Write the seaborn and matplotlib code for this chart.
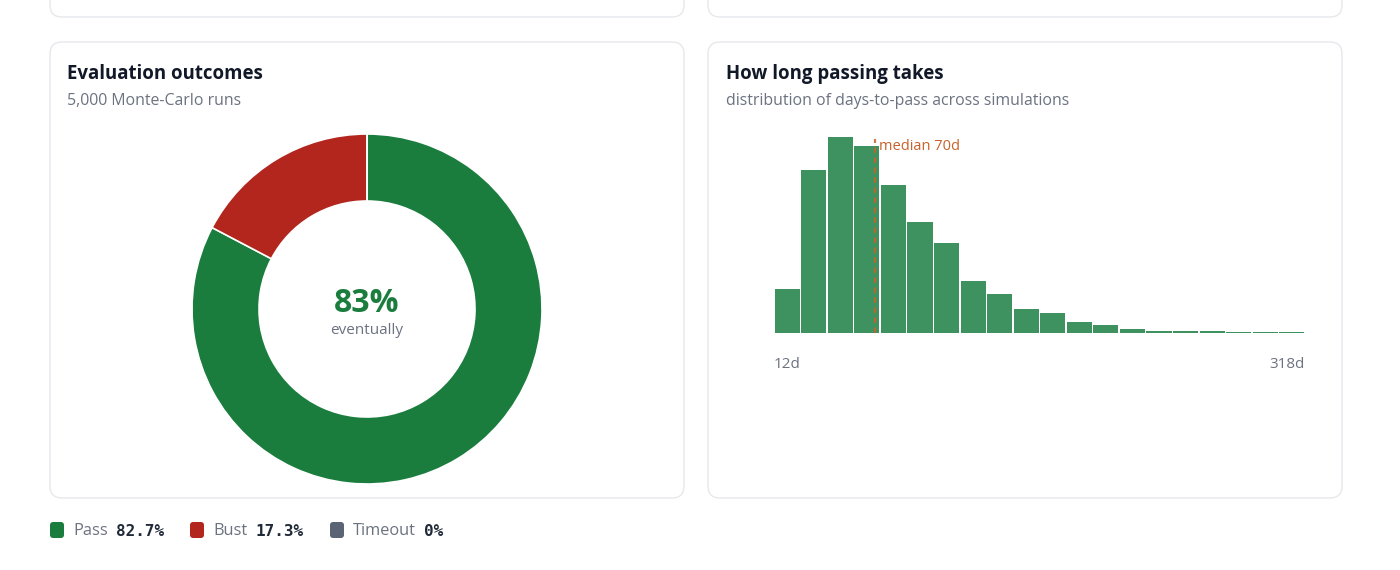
import matplotlib
matplotlib.use("Agg")
import matplotlib.pyplot as plt
from matplotlib.patches import FancyBboxPatch
import numpy as np
import pandas as pd
import seaborn as sns

# ---------------- data ----------------
outcome_labels = ["Pass", "Bust", "Timeout"]
outcome_pcts = [82.7, 17.3, 0.0]
outcome_pct_text = ["82.7%", "17.3%", "0%"]
outcome_colors = ["#1a7d3e", "#b3261e", "#5b6474"]
headline = "83%"
headline_sub = "eventually"

days_min, days_max = 12, 318
n_bins = 20
bin_counts = [165, 611, 735, 701, 556, 416, 336, 194, 146, 90,
              75, 43, 30, 16, 7, 7, 6, 5, 3, 4]
median_days = 70

left_title = "Evaluation outcomes"
left_sub = "5,000 Monte-Carlo runs"
right_title = "How long passing takes"
right_sub = "distribution of days-to-pass across simulations"

# ---------------- style ----------------
sns.set_theme(style="white")
plt.rcParams["font.family"] = ["Open Sans", "DejaVu Sans"]

W, H = 1400, 570
fig = plt.figure(figsize=(W / 100, H / 100), dpi=100)
fig.patch.set_facecolor("white")

def ax_px(x0, y0, x1, y1):
    return fig.add_axes([x0 / W, 1 - y1 / H, (x1 - x0) / W, (y1 - y0) / H])

# background axes in pixel units
bg = fig.add_axes([0, 0, 1, 1], zorder=0)
bg.set_xlim(0, W)
bg.set_ylim(H, 0)
bg.axis("off")

def card(x0, y0, x1, y1):
    bg.add_patch(FancyBboxPatch((x0, y0), x1 - x0, y1 - y0,
                                boxstyle="round,pad=0,rounding_size=12",
                                fc="white", ec="#e6e8eb", lw=1.0))

card(50, -40, 684, 17)
card(708, -40, 1342, 17)
card(50, 42, 684, 498)
card(708, 42, 1342, 498)

title_c = "#111827"
sub_c = "#6b7280"
bg.text(67, 74, left_title, fontsize=13.4, fontweight="bold", color=title_c, va="center")
bg.text(67, 101, left_sub, fontsize=11.4, color=sub_c, va="center")
bg.text(726, 74, right_title, fontsize=13.4, fontweight="bold", color=title_c, va="center")
bg.text(726, 101, right_sub, fontsize=11.4, color=sub_c, va="center")

# ---------------- donut ----------------
cx, cy, R = 367, 309, 175
dax = ax_px(cx - R, cy - R, cx + R, cy + R)
dax.set_zorder(2)
dax.pie(outcome_pcts, colors=outcome_colors, startangle=90, counterclock=False,
        radius=1.0, wedgeprops=dict(width=1 - 108 / 175, edgecolor="white", linewidth=1.2))
dax.set_xlim(-1, 1)
dax.set_ylim(-1, 1)
dax.axis("off")
bg.text(cx, 303, headline, fontsize=23, fontweight="bold", color=outcome_colors[0],
        ha="center", va="center", zorder=3)
bg.text(cx, 331, headline_sub, fontsize=11, color=sub_c, ha="center", va="center", zorder=3)

# ---------------- histogram ----------------
hx0, hx1, hbase = 774, 1305, 333
hax = ax_px(hx0, 130, hx1, hbase)
hax.set_zorder(2)
edges = np.linspace(days_min, days_max, n_bins + 1)
centers = (edges[:-1] + edges[1:]) / 2
hist_df = pd.DataFrame({"days": centers, "count": bin_counts})
sns.histplot(data=hist_df, x="days", weights="count", bins=list(edges), ax=hax,
             color="#3d9260", alpha=1.0, linewidth=0, shrink=0.945)
hax.set_xlim(days_min, days_max)
hax.set_ylim(0, max(bin_counts) * 203 / 196)
hax.axis("off")
med_c = "#c8622a"
hax.plot([median_days, median_days], [0, max(bin_counts) * 0.99], color=med_c,
         lw=1.6, ls=(0, (2.5, 2)), alpha=0.85, zorder=5)
bg.text(hx0 + (median_days - days_min) / (days_max - days_min) * (hx1 - hx0) + 4, 146,
        "median 70d", fontsize=10.5, color=med_c, va="center", zorder=4)
bg.text(hx0, 365, f"{days_min}d", fontsize=11, color=sub_c, va="center", ha="left")
bg.text(hx1, 365, f"{days_max}d", fontsize=11, color=sub_c, va="center", ha="right")

# ---------------- legend ----------------
leg_x = [50, 190, 330]
fig.canvas.draw()
for x, lab, pct, col in zip(leg_x, outcome_labels, outcome_pct_text, outcome_colors):
    bg.add_patch(FancyBboxPatch((x, 522), 14, 16, boxstyle="round,pad=0,rounding_size=3",
                                fc=col, ec="none"))
    t = bg.text(x + 23, 531, lab, fontsize=11.8, color=sub_c, va="center")
    fig.canvas.draw()
    bb = t.get_window_extent()
    bg.text(bb.x1 + 8, 531, pct, fontsize=11.5, fontweight="bold", color="#1f2937",
            va="center", family="DejaVu Sans Mono")

fig.savefig("out.png", dpi=100, facecolor="white")
